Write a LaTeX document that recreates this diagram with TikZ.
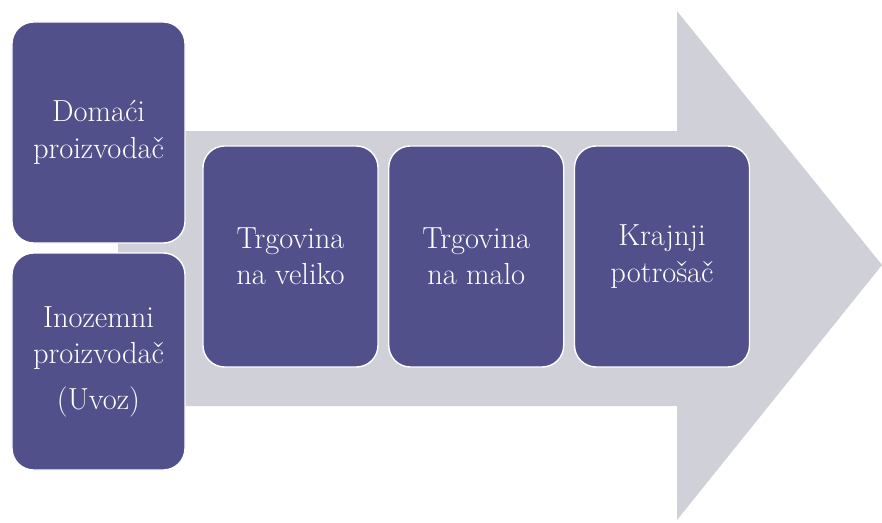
\documentclass[tikz,border=0pt]{standalone}
\usepackage{xcolor}
\usetikzlibrary{positioning}
\definecolor{boxblue}{RGB}{82,80,138}
\definecolor{arrowgray}{RGB}{208,208,216}
\tikzset{
  stage/.style={draw=white, line width=1.2pt, fill=boxblue, rounded corners=0.65cm,
    text=white, align=center, font=\fontsize{26}{31}\selectfont,
    minimum width=5.25cm, minimum height=6.63cm, inner sep=0pt}
}

\begin{document}
\begin{tikzpicture}[x=0.03cm,y=-0.03cm]
    \useasboundingbox (0,0) rectangle (882,522);
    % big arrow behind the boxes
    \fill[arrowgray] (118,131) -- (677,131) -- (677,11) -- (882,265) -- (677,520) -- (677,406) -- (118,406) -- cycle;
    % producers
    \node[stage, minimum width=5.19cm] (domaci) at (98.5,132.5) {Domaći\\proizvodač};
    \node[stage, minimum width=5.19cm, minimum height=6.51cm] (inozemni) at (98.5,361.5) {Inozemni\\proizvodač\\[8pt](Uvoz)};
    % trade chain
    \node[stage] (veliko) at (290.5,256.5) {Trgovina\\na veliko};
    \node[stage, right=0.28cm of veliko] (malo) {Trgovina\\na malo};
    \node[stage, right=0.28cm of malo] (potrosac) {Krajnji\\potrošač};
\end{tikzpicture}
\end{document}
